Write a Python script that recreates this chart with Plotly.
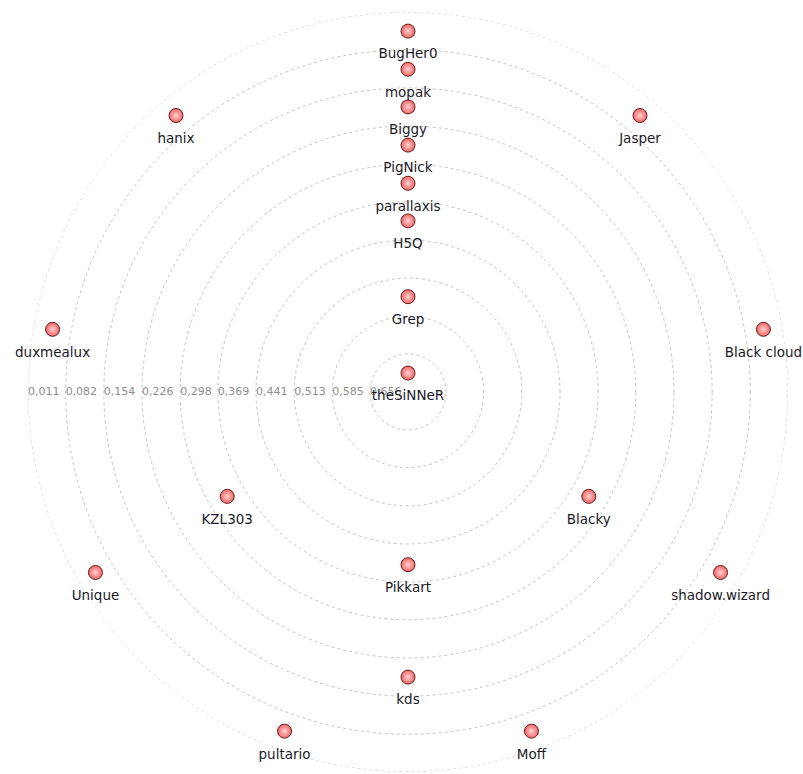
import plotly.graph_objects as go

# Node data (centrality values read from the rings; angle in degrees)
names = ["BugHer0", "mopak", "Biggy", "PigNick", "parallaxis", "H5Q", "Grep", "theSiNNeR",
         "hanix", "Jasper", "duxmealux", "Black cloud", "KZL303", "Blacky", "Pikkart",
         "Unique", "shadow.wizard", "kds", "pultario", "Moff"]
values = [0.047, 0.119, 0.190, 0.262, 0.334, 0.405, 0.548, 0.692,
          0.047, 0.047, 0.047, 0.047, 0.334, 0.334, 0.402,
          0.047, 0.047, 0.190, 0.047, 0.047]
angles = [90, 90, 90, 90, 90, 90, 90, 90,
          130, 50, 170, 10, 210, 330, 270,
          210, 330, 270, 250, 290]

# Ring (tick) values and labels
tick_values = [0.011, 0.082, 0.154, 0.226, 0.298, 0.369, 0.441, 0.513, 0.585, 0.656]
tick_labels = ["0,011", "0,082", "0,154", "0,226", "0,298", "0,369", "0,441", "0,513", "0,585", "0,656"]
r_center = 0.7277
r_outer = 0.011

fig = go.Figure()

# dotted rings
ring_theta = list(range(0, 361, 2))
ring_r, ring_t = [], []
for tv in tick_values:
    ring_r += [tv] * len(ring_theta) + [None]
    ring_t += ring_theta + [None]
fig.add_trace(go.Scatterpolar(
    r=ring_r, theta=ring_t, mode="lines",
    line=dict(color="#c4c4c4", width=1, dash="dot"),
    hoverinfo="skip", showlegend=False, cliponaxis=False,
))

# ring labels along the left horizontal radius
fig.add_trace(go.Scatterpolar(
    r=tick_values, theta=[180] * len(tick_values), mode="text",
    text=tick_labels, textposition="middle right",
    textfont=dict(family="DejaVu Sans", size=11, color="#8e8e8e"),
    hoverinfo="skip", showlegend=False, cliponaxis=False,
))

# nodes
fig.add_trace(go.Scatterpolar(
    r=values, theta=angles, mode="markers",
    marker=dict(size=14, color="#ee6464",
                gradient=dict(type="radial", color="#ffd2d2"),
                line=dict(color="#6e1c1c", width=1)),
    text=names, hoverinfo="text", showlegend=False, cliponaxis=False,
))

# node labels (offset below nodes via invisible marker)
fig.add_trace(go.Scatterpolar(
    r=values, theta=angles, mode="markers+text",
    marker=dict(size=26, color="rgba(0,0,0,0)"),
    text=names, textposition="bottom center",
    textfont=dict(family="DejaVu Sans", size=13.5, color="#1a1a28"),
    hoverinfo="skip", showlegend=False, cliponaxis=False,
))

fig.update_layout(
    width=803, height=774,
    margin=dict(l=28, r=15, t=12, b=2),
    paper_bgcolor="white",
    polar=dict(
        domain=dict(x=[0, 1], y=[0, 1]),
        bgcolor="white",
        angularaxis=dict(visible=False, rotation=0, direction="counterclockwise"),
        radialaxis=dict(
            visible=False,
            range=[r_center, r_outer],
        ),
    ),
    showlegend=False,
)

fig.write_html(
    "out.html",
    config={"displayModeBar": False},
    post_script="document.body.style.margin='0px';document.body.style.overflow='hidden';",
)
